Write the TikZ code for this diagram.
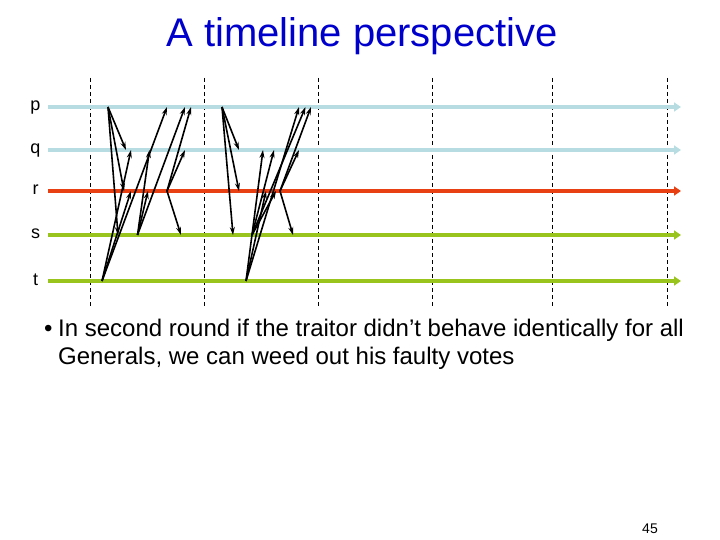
\documentclass[tikz,border=0pt]{standalone}
\usepackage{fontspec}
\setmainfont{Liberation Sans}
\usetikzlibrary{arrows.meta}
\definecolor{lineblue}{RGB}{183,221,226}
\definecolor{linered}{RGB}{232,64,18}
\definecolor{linegreen}{RGB}{153,196,30}
\definecolor{titleblue}{RGB}{0,0,204}
\tikzset{
  timeline/.style={line width=4pt,-{Triangle[length=7pt,width=9pt]}},
  divider/.style={line width=0.7pt,dash pattern=on 4pt off 3pt},
  msg/.style={line width=1.6pt,-{Stealth[length=8pt,width=5pt]}},
  proc/.style={font=\fontsize{18}{21}\selectfont,anchor=base},
  body/.style={font=\fontsize{24}{28.5}\selectfont,anchor=base west,inner sep=0pt},
}
\begin{document}
\begin{tikzpicture}[x=1pt,y=-1pt]
\useasboundingbox (0,0) rectangle (720,540);
% title
\node[font=\fontsize{40}{48}\selectfont,text=titleblue,anchor=base] (title) at (362,47) {A timeline perspective};
% dashed round separators
\foreach \x/\n in {90/d1,204/d2,318/d3,432/d4,552/d5,667/d6}{
  \coordinate (\n-top) at (\x,78);
  \coordinate (\n-bot) at (\x,308);
  \draw[divider] (\n-top) -- (\n-bot);
}
% timelines
\foreach \n/\y/\c in {p/107/lineblue,q/150/lineblue,r/191/linered,s/235/linegreen,t/281/linegreen}{
  \node[proc] (lab-\n) at (35.5,\y+4) {\n};
  \coordinate (\n-start) at (48,\y);
  \coordinate (\n-end) at (681,\y);
  \draw[timeline,color=\c] (\n-start) -- (\n-end);
}
% round 1 events
\coordinate (pA) at (108,107);
\coordinate (tA) at (102,281);
\coordinate (sA) at (137.5,235);
\coordinate (rA) at (167,191);
\coordinate (pA-q) at (126,150);
\coordinate (pA-r) at (124,191);
\coordinate (pA-s) at (118,235);
\coordinate (tA-q) at (131,150);
\coordinate (tA-r) at (131,191);
\coordinate (tA-p) at (167,107);
\coordinate (sA-q) at (149.5,150);
\coordinate (sA-r) at (148,191);
\coordinate (sA-p) at (185,107);
\coordinate (rA-q) at (185,150);
\coordinate (rA-p) at (191,107);
\coordinate (rA-s) at (181,235);
\foreach \a/\b in {pA/pA-q,pA/pA-r,pA/pA-s,tA/tA-q,tA/tA-r,tA/tA-p,sA/sA-q,sA/sA-r,sA/sA-p,rA/rA-q,rA/rA-p,rA/rA-s}
  \draw[msg] (\a) -- (\b);
% round 2 events
\coordinate (pB) at (222,107);
\coordinate (tB) at (246,281);
\coordinate (sB) at (252,235);
\coordinate (rB) at (280,191);
\coordinate (pB-q) at (239,150);
\coordinate (pB-r) at (239,191);
\coordinate (pB-s) at (233,235);
\coordinate (tB-q) at (263,150);
\coordinate (tB-r) at (266,191);
\coordinate (tB-p) at (299,107);
\coordinate (sB-q) at (274,150);
\coordinate (sB-r) at (276,191);
\coordinate (sB-p) at (305.5,107);
\coordinate (rB-q) at (299,150);
\coordinate (rB-p) at (311,107);
\coordinate (rB-s) at (293,235);
\foreach \a/\b in {pB/pB-q,pB/pB-r,pB/pB-s,tB/tB-q,tB/tB-r,tB/tB-p,sB/sB-q,sB/sB-r,sB/sB-p,rB/rB-q,rB/rB-p,rB/rB-s}
  \draw[msg] (\a) -- (\b);
% bullet text
\node[body] (bullet) at (44,336) {•};
\node[body] (line1) at (58,336) {In second round if the traitor didn’t behave identically for all};
\node[body] (line2) at (58,364.5) {Generals, we can weed out his faulty votes};
% page number
\node[font=\fontsize{14}{16}\selectfont,anchor=base] (pagenum) at (650,533) {45};
\end{tikzpicture}
\end{document}
